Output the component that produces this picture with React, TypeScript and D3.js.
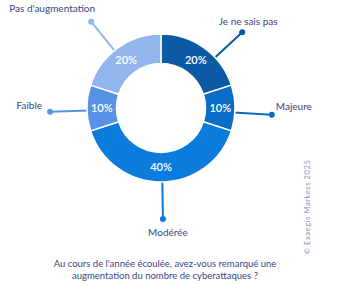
import React from "react";
import * as d3 from "d3";

const categories = ["Je ne sais pas", "Majeure", "Modérée", "Faible", "Pas d'augmentation"];
const values = [20, 10, 40, 10, 20];
const valueLabels = ["20%", "10%", "40%", "10%", "20%"];
const colors = ["#0a5aa6", "#0a6cc6", "#0b7bdc", "#5892e6", "#92b5ee"];
// leader angle (degrees, clockwise from top) and label placement relative to the dot
const leaderAngles = [47, 93.5, 179, 268, 321];
const labelAnchor: ("start" | "middle" | "end")[] = ["middle", "start", "middle", "end", "middle"];
const labelDx = [6, 4, 5, -8, -39];
const labelDy = [-7, -5, 17, -3, -10];

const question = [
  "Au cours de l'année écoulée, avez-vous remarqué une",
  "augmentation du nombre de cyberattaques ?",
];
const copyright = "© Exaegis Markess 2025";

const W = 339;
const H = 285;
const cx = 161;
const cy = 108;
const rOuter = 74;
const rInner = 44.5;
const rDot = 111;
const textColor = "#36477f";
const font = "Lato, 'Open Sans', sans-serif";

export default function App() {
  const pie = d3.pie<number>().sort(null).value((d) => d)(values);
  const arc = d3.arc<d3.PieArcDatum<number>>().innerRadius(rInner).outerRadius(rOuter);
  const rad = (deg: number) => (deg * Math.PI) / 180;
  const pt = (deg: number, r: number): [number, number] => [
    cx + r * Math.sin(rad(deg)),
    cy - r * Math.cos(rad(deg)),
  ];

  return (
    <svg
      width={W}
      height={H}
      style={{ position: "absolute", left: 0, top: 0, background: "#fff" }}
      fontFamily={font}
    >
      <g>
        {pie.map((p, i) => {
          const [x1, y1] = pt(leaderAngles[i], rOuter - 10);
          const [x2, y2] = pt(leaderAngles[i], rDot);
          return (
            <g key={"l" + i}>
              <line x1={x1} y1={y1} x2={x2} y2={y2} stroke={colors[i]} strokeWidth={2} />
              <circle cx={x2} cy={y2} r={3} fill={colors[i]} />
              <text
                x={x2 + labelDx[i]}
                y={y2 + labelDy[i]}
                textAnchor={labelAnchor[i]}
                fontSize={10}
                fill={textColor}
              >
                {categories[i]}
              </text>
            </g>
          );
        })}
      </g>
      <g transform={`translate(${cx},${cy})`}>
        {pie.map((p, i) => (
          <path key={"a" + i} d={arc(p) || ""} fill={colors[i]} stroke="#fff" strokeWidth={1.5} />
        ))}
        {pie.map((p, i) => {
          const [x, y] = arc.centroid(p);
          return (
            <text
              key={"v" + i}
              x={x}
              y={y}
              dy="0.35em"
              textAnchor="middle"
              fontSize={11}
              fontWeight={600}
              fill="#fff"
            >
              {valueLabels[i]}
            </text>
          );
        })}
      </g>
      {question.map((q, i) => (
        <text
          key={"q" + i}
          x={165}
          y={267 + i * 12}
          textAnchor="middle"
          fontSize={9.5}
          fill={textColor}
        >
          {q}
        </text>
      ))}
      <text
        transform={`translate(310,207) rotate(-90)`}
        textAnchor="middle"
        fontSize={7.5}
        letterSpacing={0.6}
        fill="#8893b3"
      >
        {copyright}
      </text>
    </svg>
  );
}
